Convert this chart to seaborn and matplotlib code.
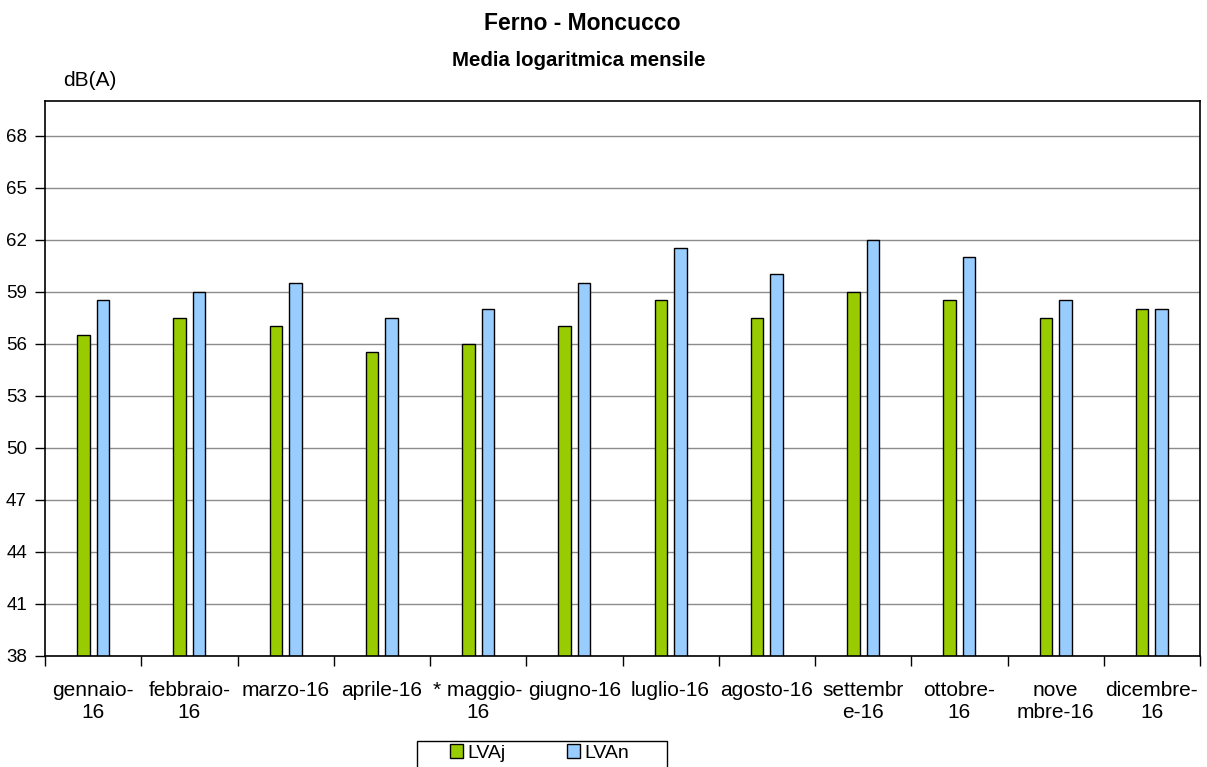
import matplotlib
matplotlib.use("Agg")
import matplotlib.pyplot as plt
from matplotlib.patches import Rectangle
import seaborn as sns
import pandas as pd
import numpy as np

months = ["gennaio-\n16", "febbraio-\n16", "marzo-16", "aprile-16", "* maggio-\n16",
          "giugno-16", "luglio-16", "agosto-16", "settembr\ne-16", "ottobre-\n16",
          "nove\nmbre-16", "dicembre-\n16"]
lvaj = [56.5, 57.5, 57.0, 55.5, 56.0, 57.0, 58.5, 57.5, 59.0, 58.5, 57.5, 58.0]
lvan = [58.5, 59.0, 59.5, 57.5, 58.0, 59.5, 61.5, 60.0, 62.0, 61.0, 58.5, 58.0]
series = ["LVAj", "LVAn"]
colors = ["#99CC00", "#99CCFF"]
yticks = [38, 41, 44, 47, 50, 53, 56, 59, 62, 65, 68]

df = pd.DataFrame({
    "mese": months * 2,
    "valore": lvaj + lvan,
    "serie": [series[0]] * len(months) + [series[1]] * len(months),
})

sns.set_theme(style="white")
plt.rcParams["font.family"] = ["Liberation Sans", "DejaVu Sans"]
plt.rcParams["text.color"] = "black"
plt.rcParams["xtick.color"] = "black"
plt.rcParams["ytick.color"] = "black"

W, H = 1207, 767
fig = plt.figure(figsize=(W / 100, H / 100), dpi=100)
ax = fig.add_axes([45 / W, 1 - 656 / H, (1200 - 45) / W, (656 - 101) / H])

sns.barplot(data=df, x="mese", y="valore", hue="serie", palette=colors,
            order=months, hue_order=series, width=0.405, gap=0.36,
            edgecolor="black", linewidth=1.0, saturation=1, ax=ax, legend=True)

ax.set_ylim(38, 70)
ax.set_xlim(-0.5, len(months) - 0.5)
ax.set_yticks(yticks)
ax.set_yticklabels([str(t) for t in yticks], fontsize=13.5)
ax.yaxis.grid(True, color="#8c8c8c", linewidth=1.0)
ax.set_axisbelow(True)
ax.tick_params(axis="y", which="major", direction="out", length=7, width=1,
               color="black", left=True, pad=6)

ax.set_xticks(range(len(months)))
ax.set_xticklabels(months, fontsize=15, linespacing=1.2)
ax.tick_params(axis="x", which="major", length=0, pad=18)
ax.set_xticks(np.arange(-0.5, len(months), 1.0), minor=True)
ax.tick_params(axis="x", which="minor", direction="out", length=7, width=1,
               color="black", bottom=True)

for s in ax.spines.values():
    s.set_visible(True)
    s.set_color("black")
    s.set_linewidth(1.2)

ax.set_xlabel("")
ax.set_ylabel("")

handles, labels = ax.get_legend_handles_labels()
ax.get_legend().remove()
fig.add_artist(Rectangle((417 / W, -0.02), 250 / W, (767 - 741) / H + 0.02,
                         transform=fig.transFigure, fill=False,
                         edgecolor="black", linewidth=1.0))
leg = fig.legend(handles, labels, loc="center left",
                 bbox_to_anchor=(450 / W, 1 - 753 / H),
                 ncol=2, fontsize=14, frameon=False,
                 handlelength=0.67, handleheight=0.67,
                 handletextpad=0.2, columnspacing=3.2, borderpad=0,
                 borderaxespad=0)

fig.text(582 / W, 1 - 23 / H, "Ferno - Moncucco", ha="center", va="center",
         fontsize=16.5, fontweight="bold")
fig.text(579 / W, 1 - 60 / H, "Media logaritmica mensile", ha="center", va="center",
         fontsize=14.7, fontweight="bold")
fig.text(90 / W, 1 - 80 / H, "dB(A)", ha="center", va="center", fontsize=15)

fig.savefig("out.png", dpi=100)
